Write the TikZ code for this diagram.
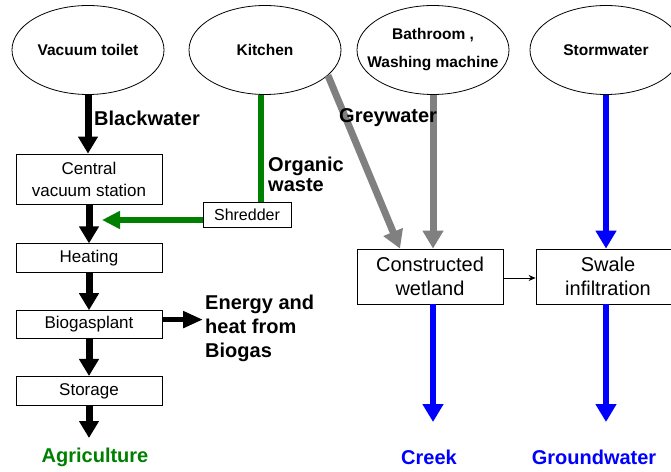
\documentclass[tikz,border=0pt]{standalone}
\usepackage{fontspec}
\setmainfont{Liberation Sans}
\usepackage{tikz}
\usetikzlibrary{positioning, shapes.geometric, arrows.meta}
\definecolor{wgreen}{RGB}{0,128,0}
\definecolor{wgrey}{RGB}{128,128,128}
\definecolor{wblue}{RGB}{0,0,255}

\begin{document}
\begin{tikzpicture}[x=1pt, y=1pt, node distance={37pt},
main/.style = {draw, ellipse, line width=0.8pt, minimum width=152pt, minimum height=89pt, inner sep=0pt, align=center, font=\fontsize{15.5}{28}\selectfont\bfseries},
box/.style = {draw, rectangle, line width=0.8pt, minimum width=146pt, inner sep=0pt, align=center, font=\fontsize{17}{22}\selectfont},
el/.style = {inner sep=0pt, align=left, font=\fontsize{20}{24}\selectfont\bfseries},
blk/.style = {line width=7pt, -{Triangle[width=19pt,length=17pt]}},
grn/.style = {wgreen, line width=5.5pt},
gry/.style = {wgrey, line width=7pt, -{Triangle[width=20pt,length=18pt]}},
blu/.style = {wblue, line width=6pt, -{Triangle[width=20pt,length=18pt]}}]
\useasboundingbox (0,0) rectangle (671,471);

% sources
\node[main] (1) at (88,421) {Vacuum toilet};
\node[main] (2) at (265,421) {Kitchen};
\node[main, inner xsep=-13pt] (3) at (433,421) {Bathroom ,\\Washing machine};
\node[main] (4) at (606,421) {Stormwater};

% blackwater line
\node[box, minimum height=50pt] (5) at (89,292) {Central\\vacuum station};
\node[box, minimum height=29pt] (6) [below =of 5, yshift=-2pt] {Heating};
\node[box, minimum height=28pt] (7) [below =of 6] {Biogasplant};
\node[box, minimum height=29pt] (8) [below =of 7] {Storage};
\node[box, minimum width=88pt, minimum height=25pt, font=\fontsize{16}{20}\selectfont] (9) at (247,256.5) {Shredder};

% grey and storm water
\node[box, minimum height=55pt, font=\fontsize{20}{24}\selectfont] (10) at (430,194.5) {Constructed\\wetland};
\node[box, minimum width=144pt, minimum height=55pt, font=\fontsize{20}{24}\selectfont] (11) at (608,194.5) {Swale\\infiltration};

% outlets
\node[el, anchor=north west] (12) at (205,176) {Energy and\\heat from\\Biogas};
\node[el, anchor=north, wgreen] (13) at (95,23) {Agriculture};
\node[el, anchor=north, wblue] (14) at (429,21) {Creek};
\node[el, anchor=north, wblue] (15) at (594,21) {Groundwater};
\coordinate (g) at (102,251);

\path[blk]
(1) edge (1 |- 5.north)
(5) edge (6)
(6) edge (7)
(7) edge (8)
(8.south) edge[shorten >=10pt] (8.south |- 13.north)
; 
\draw[blk, line width=5pt, -{Triangle[width=16pt,length=20pt]}] ([yshift=5pt]7.east) -- ([xshift=-2pt, yshift=5pt]7.east -| 12.west);

\draw[grn] ([xshift=-4pt]2.south) -- ([xshift=-4pt]2.south |- 9.north);
\draw[grn, -{Triangle[width=17pt,length=18pt]}] ([yshift=-5.5pt]9.west) -- (g);

\path[gry]
(2.-22) edge ([xshift=-30pt]10.north)
(3) edge (3 |- 10.north)
;
\path[blu]
(4) edge (4 |- 11.north)
(3 |- 10.south) edge[shorten >=28pt] (3 |- 14.north)
(4 |- 11.south) edge[shorten >=28pt] (4 |- 15.north)
;
\draw[line width=0.7pt, -{Stealth[length=7pt,width=6pt]}] ([yshift=-1.5pt]10.east) -- ([yshift=-1.5pt]11.west);

% flow labels
\node[el, anchor=west] (16) at (94,353) {Blackwater};
\node[el, anchor=north west, font=\fontsize{20}{20}\selectfont\bfseries] (17) at (268,314) {Organic\\waste};
\node[el, anchor=west] (18) at (339,353) {Greywater};
\end{tikzpicture}
\end{document}
